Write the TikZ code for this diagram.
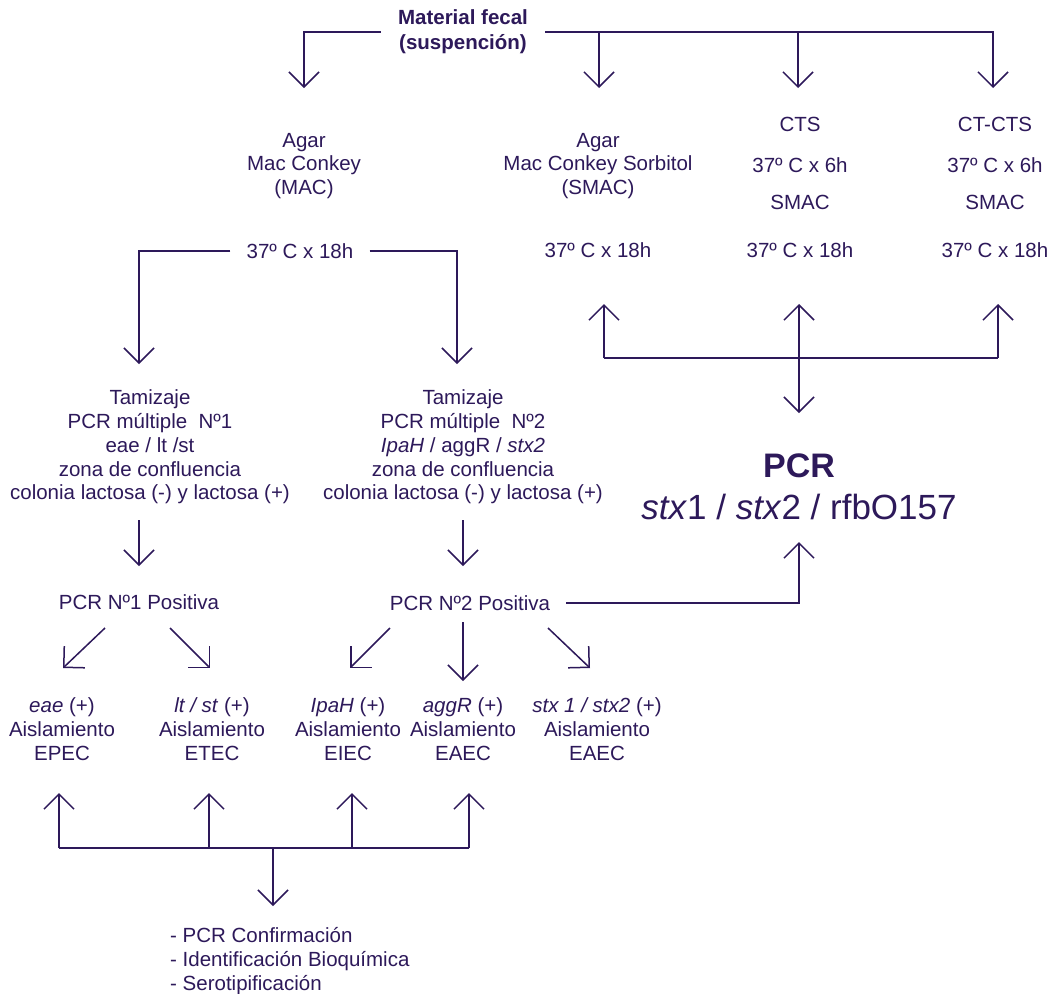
\documentclass[tikz,border=0pt]{standalone}
\usepackage{fontspec}
\setmainfont{Liberation Sans}
\usetikzlibrary{arrows.meta}
\definecolor{ink}{RGB}{45,25,90}
\begin{document}
\begin{tikzpicture}[x=1pt,y=-1pt,
  txt/.style={text=ink,align=center,inner sep=0pt,font=\fontsize{20.5}{23.7}\selectfont},
  arr/.style={draw=ink,line width=1.5pt,-{Straight Barb[length=15pt,width=30pt,line width=1.5pt]}},
  ln/.style={draw=ink,line width=1.5pt}]
\useasboundingbox[fill=white] (0,0) rectangle (1053,994);

% source sample
\node[txt,font=\fontsize{20.5}{25}\selectfont\bfseries,inner xsep=17pt] (mf) at (463,32)
  {Material fecal\\(suspención)};

% culture media
\node[txt] (mac) at (304,166) {Agar\\Mac Conkey\\(MAC)};
\node[txt,inner xsep=16pt] (mact) at (300,251) {37º C x 18h};
\node[txt] (smac) at (598,166) {Agar\\Mac Conkey Sorbitol\\(SMAC)};
\node[txt] (smact) at (598,250) {37º C x 18h};
\node[txt] (cts) at (800,124) {CTS};
\node[txt] (cts6) at (800,165) {37º C x 6h};
\node[txt] (ctss) at (800,202) {SMAC};
\node[txt] (ctst) at (800,250) {37º C x 18h};
\node[txt] (ctc) at (995,124) {CT-CTS};
\node[txt] (ctc6) at (995,165) {37º C x 6h};
\node[txt] (ctcs) at (995,202) {SMAC};
\node[txt] (ctct) at (995,250) {37º C x 18h};

% screening
\node[txt] (tam1) at (150,447) {Tamizaje\\PCR múltiple\ \ Nº1\\eae / lt /st\\zona de confluencia\\colonia lactosa (-) y lactosa (+)};
\node[txt] (tam2) at (463,447) {Tamizaje\\PCR múltiple\ \ Nº2\\\textit{IpaH} / aggR / \textit{stx2}\\zona de confluencia\\colonia lactosa (-) y lactosa (+)};

\node[txt] (p1) at (139,602) {PCR Nº1 Positiva};
\node[txt,inner xsep=16pt] (p2) at (470,603) {PCR Nº2 Positiva};

% isolates
\node[txt] (b1) at (62,729) {\textit{eae} (+)\\Aislamiento\\EPEC};
\node[txt] (b2) at (212,729) {\textit{lt / st} (+)\\Aislamiento\\ETEC};
\node[txt] (b3) at (348,729) {\textit{IpaH} (+)\\Aislamiento\\EIEC};
\node[txt] (b4) at (463,729) {\textit{aggR} (+)\\Aislamiento\\EAEC};
\node[txt] (b5) at (597,729) {\textit{stx 1 / stx2} (+)\\Aislamiento\\EAEC};

\node[txt,align=left,anchor=west] (conf) at (170,961)
  {- PCR Confirmación\\- Identificación Bioquímica\\- Serotipificación};

% specific PCR
\node[txt,font=\fontsize{34}{34}\selectfont\bfseries] (pcra) at (799,466) {PCR};
\node[txt,font=\fontsize{35}{35}\selectfont] (pcrb) at (799,507) {\textit{stx}1 / \textit{stx}2 / rfbO157};

% arrow tips and junctions
\coordinate (tmac) at (304,88);
\coordinate (tsmac) at (599,88);
\coordinate (tcts) at (798,88);
\coordinate (tctc) at (993,88);
\coordinate (tt1) at (139,364);
\coordinate (tt2) at (457,364);
\coordinate (s1) at (139,520);
\coordinate (e1) at (139,566);
\coordinate (s2) at (463,520);
\coordinate (e2) at (463,566);
\coordinate (pb) at (799,542);

\coordinate (d1s) at (105,628); \coordinate (d1e) at (63,668);
\coordinate (d2s) at (170,628); \coordinate (d2e) at (210,668);
\coordinate (d3s) at (390,628); \coordinate (d3e) at (350,668);
\coordinate (d4s) at (463,622); \coordinate (d4e) at (463,681);
\coordinate (d5s) at (548,628); \coordinate (d5e) at (590,668);

\coordinate (u1) at (59,793); \coordinate (u2) at (209,793);
\coordinate (u3) at (352,793); \coordinate (u4) at (469,793);
\coordinate (hb) at (59,848);
\coordinate (hc) at (273,848);
\coordinate (dc) at (273,906);

\coordinate (r1) at (604,304); \coordinate (r2) at (799,304);
\coordinate (r3) at (998,304);
\coordinate (rb) at (604,358);
\coordinate (rd) at (799,413);

% connectors from the sample
\draw[arr] (mf.west) -| (tmac);
\draw[arr] (mf.east) -| (tctc);
\draw[arr] (mf.east -| tsmac) -- (tsmac);
\draw[arr] (mf.east -| tcts) -- (tcts);

% MAC branches
\draw[arr] (mact.west) -| (tt1);
\draw[arr] (mact.east) -| (tt2);
\draw[arr] (s1) -- (e1);
\draw[arr] (s2) -- (e2);

% positives
\draw[arr] (d1s) -- (d1e);
\draw[arr] (d2s) -- (d2e);
\draw[arr] (d3s) -- (d3e);
\draw[arr] (d4s) -- (d4e);
\draw[arr] (d5s) -- (d5e);
\draw[arr] (p2.east) -| (pb);

% isolates to confirmation
\draw[ln] (hb) -- (hb -| u4);
\draw[arr] (hb) -- (u1);
\draw[arr] (hb -| u2) -- (u2);
\draw[arr] (hb -| u3) -- (u3);
\draw[arr] (hb -| u4) -- (u4);
\draw[arr] (hc) -- (dc);

% specific PCR links
\draw[ln] (rb) -- (rb -| r3);
\draw[arr] (rb) -- (r1);
\draw[arr] (rb -| r3) -- (r3);
\draw[arr] (rb -| r2) -- (r2);
\draw[arr] (rb -| r2) -- (rd);
\end{tikzpicture}
\end{document}
